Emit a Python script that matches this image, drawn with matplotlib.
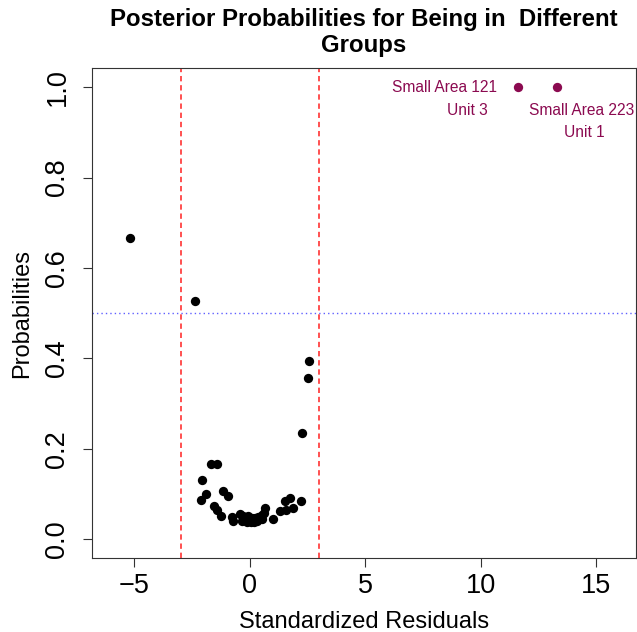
import matplotlib
matplotlib.use("Agg")
import matplotlib.pyplot as plt

plt.rcParams['font.family'] = ['Liberation Sans', 'DejaVu Sans']

# Standardized residuals and posterior probabilities of the ordinary units
resid = [-5.19, -2.38, 2.54, 2.52, 2.25,
         -1.70, -1.41, -2.08, -1.90, -2.11, -1.15, -0.94, -1.56, -1.41, -1.24,
         -0.79, -0.72, -0.43, -0.29, -0.07, 0.07, 0.22, 0.36, 0.51, -0.36,
         -0.14, 0.03, 0.17, 0.32, 0.51, 0.61, 0.65, 0.98, 1.30, 1.56, 1.52,
         1.73, 1.85, 2.19]
prob = [0.667, 0.528, 0.395, 0.356, 0.235,
        0.166, 0.166, 0.131, 0.100, 0.086, 0.106, 0.095, 0.073, 0.064, 0.051,
        0.049, 0.041, 0.056, 0.051, 0.051, 0.047, 0.047, 0.049, 0.053, 0.040,
        0.038, 0.038, 0.038, 0.040, 0.044, 0.058, 0.069, 0.045, 0.062, 0.064,
        0.084, 0.090, 0.068, 0.084]

# Highlighted outlying units
out_resid = [11.6, 13.3]
out_prob = [1.0, 1.0]
out_area = ["Small Area 121", "Small Area 223"]
out_unit = ["Unit 3", "Unit 1"]

x_ticks = [-5, 0, 5, 10, 15]
y_ticks = [0.0, 0.2, 0.4, 0.6, 0.8, 1.0]
cutoff = 3
prob_line = 0.5

hl = "#8B0A50"

fig = plt.figure(figsize=(6.37, 6.32), dpi=100)
ax = fig.add_axes([0.1444, 0.117, 0.8536, 0.775])

ax.scatter(resid, prob, s=45, color="black", zorder=3, linewidths=0)
ax.scatter(out_resid, out_prob, s=45, color=hl, zorder=3, linewidths=0)

ax.axvline(-cutoff, color="#FF2020", linestyle=(0, (3.5, 2.5)), linewidth=1.1)
ax.axvline(cutoff, color="#FF2020", linestyle=(0, (3.5, 2.5)), linewidth=1.1)
ax.axhline(prob_line, color="#6060FF", linestyle=(0, (1, 2.2)), linewidth=1.0)

# labels for the outlying units
fs_lab = 11.2
ax.annotate(out_area[0], (out_resid[0], out_prob[0]), xytext=(-21, 0),
            textcoords="offset pixels", ha="right", va="center",
            color=hl, fontsize=fs_lab)
ax.annotate(out_unit[0], (out_resid[0], out_prob[0]), xytext=(-30, -23),
            textcoords="offset pixels", ha="right", va="center",
            color=hl, fontsize=fs_lab)
ax.annotate(out_area[1], (out_resid[1], out_prob[1]), xytext=(24, -23),
            textcoords="offset pixels", ha="center", va="center",
            color=hl, fontsize=fs_lab)
ax.annotate(out_unit[1], (out_resid[1], out_prob[1]), xytext=(27, -45),
            textcoords="offset pixels", ha="center", va="center",
            color=hl, fontsize=fs_lab)

ax.set_xlim(-6.84, 16.7)
ax.set_ylim(-0.042, 1.042)
ax.set_xticks(x_ticks)
ax.set_xticklabels(["\u22125", "0", "5", "10", "15"])
ax.set_yticks(y_ticks)
ax.set_yticklabels([f"{v:.1f}" for v in y_ticks], rotation=90, va="center")
ax.tick_params(direction="out", length=6.5, width=0.8, labelsize=19.5,
               color="#333333")
ax.tick_params(axis="x", pad=4)
ax.tick_params(axis="y", pad=9)
for sp in ax.spines.values():
    sp.set_linewidth(0.8)
    sp.set_color("#333333")

ax.set_xlabel("Standardized Residuals", fontsize=17, labelpad=9)
ax.set_ylabel("Probabilities", fontsize=17, labelpad=8)
ax.set_title("Posterior Probabilities for Being in  Different\nGroups",
             fontsize=17.3, fontweight="bold", pad=12, linespacing=1.15)

fig.savefig("out.png", dpi=100)
